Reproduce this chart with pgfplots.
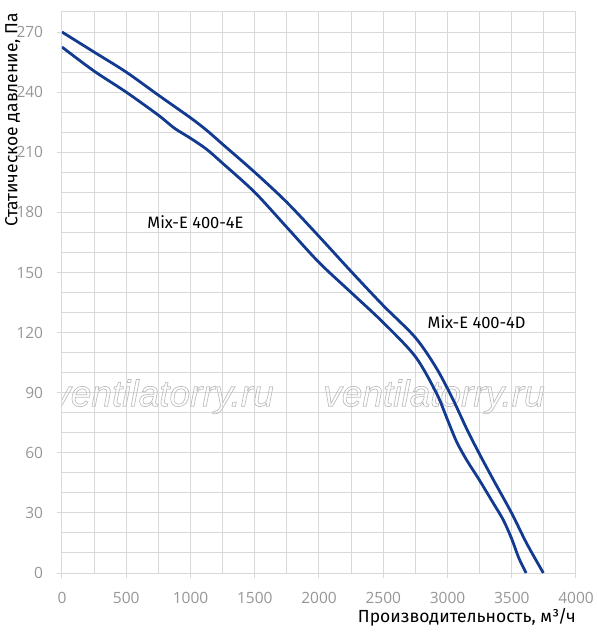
\documentclass[border=0pt]{standalone}
\usepackage{pgfplots}
\pgfplotsset{compat=1.18}
\usepackage{fontspec}
\setmainfont{Fira Sans}
\newfontfamily\wmfont{Liberation Sans}
\newfontfamily\tickfont{Open Sans}
\definecolor{curve}{RGB}{18,58,145}
\definecolor{gridc}{RGB}{217,217,217}
\definecolor{tickc}{RGB}{150,150,150}
\definecolor{wmark}{RGB}{190,190,190}
\newcommand\outlined[1]{\special{pdf:literal direct 1 Tr 0.7 w}#1\special{pdf:literal direct 0 Tr}}
\begin{document}
\begin{tikzpicture}
\useasboundingbox (-62pt,-60pt) rectangle (535pt,573pt);
\begin{axis}[
  scale only axis, width=514pt, height=561pt,
  xmin=0, xmax=4000, ymin=0, ymax=280,
  xtick={0,500,...,4000}, ytick={0,30,...,270},
  minor xtick={250,750,...,3750},
  minor ytick={10,20,40,50,70,80,100,110,130,140,160,170,190,200,220,230,250,260,280},
  grid=both,
  major grid style={gridc, line width=1pt},
  minor grid style={gridc, line width=1pt},
  axis line style={gridc, line width=1pt},
  tick style={gridc, line width=1pt},
  major tick length=5pt, minor tick length=0pt, tick align=outside,
  tick pos=left,
  ticklabel style={font=\tickfont\fontsize{15.5}{18}\selectfont, text=tickc, inner sep=0pt},
  /pgf/number format/assume math mode=true,
  /pgf/number format/set thousands separator={},
  xticklabel style={anchor=north, yshift=-14.5pt},
  yticklabel style={anchor=east, xshift=-13.7pt},
  xlabel={Производительность, м³/ч},
  xlabel style={font=\fontsize{17.5}{21}\selectfont, text=black, inner sep=0pt,
    at={(rel axis cs:1,0)}, anchor=north east, yshift=-35pt},
]
\node[text=wmark, font=\wmfont\itshape\fontsize{37}{42}\selectfont] at (axis cs:786,88) {\outlined{ventilatorry.ru}};
\node[text=wmark, font=\wmfont\itshape\fontsize{37}{42}\selectfont] at (axis cs:2895,88) {\outlined{ventilatorry.ru}};
\addplot[curve, line width=2.8pt, smooth, tension=0.5] coordinates {
(0,270) (250,260) (500,250) (750,238.5) (1000,227.2) (1125,221) (1250,214)
(1500,200) (1750,185) (2000,168) (2250,150.5) (2500,133.5) (2750,117.5)
(2916,102) (3045,86.3) (3149,72) (3248,59.5) (3357,46.5) (3500,29.8)
(3616,14.8) (3746,0)
};
\addplot[curve, line width=2.8pt, smooth, tension=0.5] coordinates {
(0,262.5) (250,250.5) (500,240) (750,228.5) (875,222) (1000,217) (1125,211.5)
(1250,204.5) (1500,190) (1750,172.5) (2000,155) (2250,140) (2500,125)
(2750,108) (2916,89.5) (3000,76.5) (3071,65.5) (3149,56.4) (3248,46.4)
(3357,34.8) (3434,26.5) (3500,17) (3555,7.5) (3612,0)
};
\node[font=\fontsize{16.5}{19}\selectfont] at (axis cs:1039,175.2) {Mix-E 400-4E};
\node[font=\fontsize{16.5}{19}\selectfont] at (axis cs:3227,125.4) {Mix-E 400-4D};
\end{axis}
\node[rotate=90, anchor=base east, inner sep=0pt, font=\fontsize{17.5}{21}\selectfont] at (-44.5pt,560pt) {Статическое давление, Па};
\end{tikzpicture}
\end{document}
